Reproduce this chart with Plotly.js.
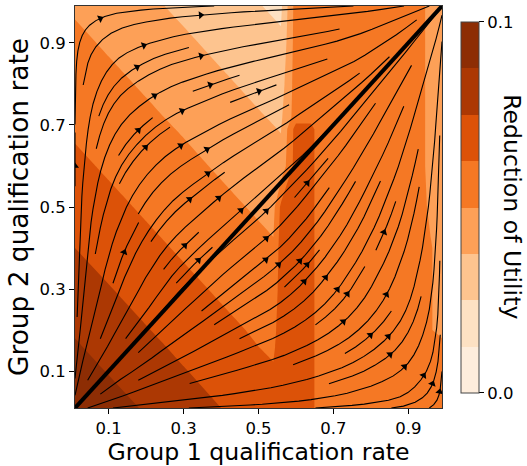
<!DOCTYPE html>
<html><head><meta charset="utf-8">
<script src="https://cdn.plot.ly/plotly-3.0.1.min.js"></script>
<style>body{margin:0;background:#fff}#chart{width:527px;height:466px}</style>
</head><body><div id="chart"></div>
<script>
// ---- contour field (reduction of utility) ----
const gridX = [0.01, 0.1, 0.2, 0.3, 0.4, 0.5, 0.54, 0.56, 0.6, 0.64, 0.66, 0.75, 0.85, 0.93, 0.96, 0.99];
const gridY = [0.01, 0.1, 0.16, 0.2, 0.3, 0.4, 0.5, 0.6, 0.69, 0.72, 0.8, 0.9, 0.99];
const utilityReduction = [
 [0.0972,0.0921,0.0864,0.0807,0.0750,0.0700,0.0680,0.068,0.068,0.068,0.056,0.056,0.056,0.056,0.056,0.056],
 [0.0921,0.0869,0.0813,0.0756,0.0705,0.0655,0.0635,0.068,0.068,0.068,0.056,0.056,0.056,0.056,0.056,0.056],
 [0.0886,0.0835,0.0778,0.0725,0.0675,0.0625,0.0609,0.068,0.068,0.068,0.056,0.056,0.056,0.056,0.056,0.056],
 [0.0864,0.0813,0.0756,0.0705,0.0655,0.0609,0.0593,0.068,0.068,0.068,0.056,0.056,0.056,0.056,0.051,0.044],
 [0.0807,0.0756,0.0705,0.0655,0.0609,0.0569,0.0552,0.068,0.068,0.068,0.056,0.056,0.056,0.056,0.051,0.044],
 [0.0750,0.0705,0.0655,0.0609,0.0569,0.0528,0.0512,0.068,0.068,0.068,0.056,0.056,0.056,0.056,0.051,0.044],
 [0.0700,0.0655,0.0609,0.0569,0.0528,0.0486,0.0468,0.065,0.068,0.068,0.056,0.056,0.056,0.056,0.047,0.044],
 [0.0650,0.0609,0.0569,0.0528,0.0486,0.0440,0.0421,0.0412,0.068,0.068,0.056,0.056,0.056,0.056,0.044,0.044],
 [0.0609,0.0573,0.0532,0.0491,0.0444,0.0398,0.0380,0.0370,0.068,0.068,0.056,0.056,0.056,0.056,0.044,0.044],
 [0.0597,0.0561,0.0520,0.0477,0.0431,0.0384,0.0365,0.0356,0.056,0.056,0.056,0.056,0.056,0.056,0.044,0.044],
 [0.0565,0.0528,0.0486,0.0440,0.0394,0.0346,0.0327,0.0317,0.056,0.056,0.056,0.056,0.056,0.056,0.044,0.044],
 [0.0524,0.0486,0.0440,0.0394,0.0346,0.0298,0.0279,0.0269,0.056,0.056,0.056,0.056,0.056,0.056,0.044,0.044],
 [0.0486,0.0444,0.0398,0.0351,0.0303,0.0255,0.0236,0.0227,0.056,0.056,0.056,0.056,0.056,0.056,0.044,0.044]
];
const levelColors = ['#feeddc','#fddbb8','#fdbf86','#fd9e54','#f67a26','#e4570a','#ba3d02','#8d2d04'];

// ---- flow direction (degrees, data space) read from the streamlines ----
const flowNodesX = [0.01, 0.05, 0.15, 0.3, 0.5, 0.7, 0.85, 0.95, 0.99];
const flowNodesY = [0.01, 0.05, 0.15, 0.3, 0.5, 0.7, 0.85, 0.95, 0.99];
const flowAngle = [
 [45, 12,  3,  2,  2,  3,  4, 20, 60],
 [80, 45, 20, 10,  8, 12, 18, 50, 85],
 [88, 70, 45, 28, 18, 25, 38, 70, 88],
 [90, 82, 65, 45, 32, 50, 62, 80, 90],
 [90, 82, 62, 38, 40, 55, 68, 82, 90],
 [90, 80, 45, 25, 25, 45, 63, 80, 90],
 [88, 70, 30, 15, 12, 18, 45, 72, 88],
 [75, 35, 12,  7,  5,  8, 20, 45, 80],
 [40,  8,  3,  2,  2,  2,  5, 15, 45]
];

// ---- axes / labels ----
const xTickVals = [0.1, 0.3, 0.5, 0.7, 0.9];
const xTickText = ['0.1', '0.3', '0.5', '0.7', '0.9'];
const yTickVals = [0.1, 0.3, 0.5, 0.7, 0.9];
const yTickText = ['0.1', '0.3', '0.5', '0.7', '0.9'];
const cbTickVals = [0.0, 0.1];
const cbTickText = ['0.0', '0.1'];
const diagX = [0.01, 0.99];
const diagY = [0.01, 0.99];

const X0 = 0.01, X1 = 0.99, Y0 = 0.01, Y1 = 0.99;
const PW = 367, PH = 402;

// ---- streamplot (matplotlib-like algorithm) ----
function locate(arr, v) {
  let i = 0;
  while (i < arr.length - 2 && v > arr[i + 1]) i++;
  let t = (v - arr[i]) / (arr[i + 1] - arr[i]);
  return [i, Math.min(1, Math.max(0, t))];
}
function flowDir(x, y) {
  const [i, tx] = locate(flowNodesX, x), [j, ty] = locate(flowNodesY, y);
  const vec = (jj, ii) => { const a = flowAngle[jj][ii] * Math.PI / 180; return [Math.cos(a), Math.sin(a)]; };
  const a00 = vec(j, i), a01 = vec(j, i + 1), a10 = vec(j + 1, i), a11 = vec(j + 1, i + 1);
  const u = (a00[0] * (1 - tx) + a01[0] * tx) * (1 - ty) + (a10[0] * (1 - tx) + a11[0] * tx) * ty;
  const v = (a00[1] * (1 - tx) + a01[1] * tx) * (1 - ty) + (a10[1] * (1 - tx) + a11[1] * tx) * ty;
  const n = Math.hypot(u, v) || 1;
  return [u / n, v / n];
}
const MN = 30;
const mask = new Uint8Array(MN * MN);
let traj = [], cur = null;
const g2m = a => Math.round(a * (MN - 1));
const within = (x, y) => x >= 0 && x <= 1 && y >= 0 && y <= 1;
function updateTraj(ax, ay) {
  if (!within(ax, ay)) return false;
  const xm = g2m(ax), ym = g2m(ay);
  if (!cur || cur[0] !== xm || cur[1] !== ym) {
    if (mask[ym * MN + xm] === 0) { traj.push(ym * MN + xm); mask[ym * MN + xm] = 1; cur = [xm, ym]; }
    else return false;
  }
  return true;
}
function field(ax, ay, sgn) {
  if (!within(ax, ay)) return null;
  const d = flowDir(X0 + ax * (X1 - X0), Y0 + ay * (Y1 - Y0));
  return [sgn * d[0], sgn * d[1]];
}
function rk12(x0, y0, sgn) {
  const maxerror = 0.003, maxds = 1 / MN, maxlength = 4;
  let ds = maxds, stotal = 0, xi = x0, yi = y0;
  const pts = [];
  while (true) {
    if (!within(xi, yi)) break;
    pts.push([xi, yi]);
    const k1 = field(xi, yi, sgn);
    const k2 = field(xi + ds * k1[0], yi + ds * k1[1], sgn);
    if (!k2) {
      const cx = k1[0], cy = k1[1];
      const dsx = cx === 0 ? Infinity : (cx < 0 ? xi / -cx : (1 - xi) / cx);
      const dsy = cy === 0 ? Infinity : (cy < 0 ? yi / -cy : (1 - yi) / cy);
      const dsb = Math.min(dsx, dsy);
      pts.push([xi + cx * dsb, yi + cy * dsb]);
      stotal += dsb;
      break;
    }
    const dx1 = ds * k1[0], dy1 = ds * k1[1];
    const dx2 = ds * 0.5 * (k1[0] + k2[0]), dy2 = ds * 0.5 * (k1[1] + k2[1]);
    const err = Math.hypot(dx2 - dx1, dy2 - dy1);
    if (err < maxerror) {
      xi += dx2; yi += dy2;
      if (!updateTraj(xi, yi)) break;
      if (stotal + ds > maxlength) break;
      stotal += ds;
    }
    ds = err === 0 ? maxds : Math.min(maxds, 0.85 * ds * Math.sqrt(maxerror / err));
  }
  return [stotal, pts];
}
function integrate(x0, y0) {
  traj = []; cur = null;
  if (!updateTraj(x0, y0)) return null;
  let stotal = 0;
  const b = rk12(x0, y0, -1);
  stotal += b[0];
  let pts = b[1].reverse();
  cur = [g2m(x0), g2m(y0)];
  const f = rk12(x0, y0, 1);
  stotal += f[0];
  pts = pts.concat(f[1].slice(1));
  if (stotal > 0.1) return pts;
  for (const k of traj) mask[k] = 0;
  return null;
}
function* spiral(nx, ny) {
  let xfirst = 0, yfirst = 1, xlast = nx - 1, ylast = ny - 1, x = 0, y = 0, dir = 'right';
  for (let i = 0; i < nx * ny; i++) {
    yield [x, y];
    if (dir === 'right') { x++; if (x >= xlast) { xlast--; dir = 'up'; } }
    else if (dir === 'up') { y++; if (y >= ylast) { ylast--; dir = 'left'; } }
    else if (dir === 'left') { x--; if (x <= xfirst) { xfirst++; dir = 'down'; } }
    else { y--; if (y <= yfirst) { yfirst++; dir = 'right'; } }
  }
}
const lineX = [], lineY = [], arrX = [], arrY = [], arrA = [];
for (const [xm, ym] of spiral(MN, MN)) {
  if (mask[ym * MN + xm] !== 0) continue;
  const t = integrate(xm / (MN - 1), ym / (MN - 1));
  if (!t) continue;
  const tx = t.map(p => X0 + p[0] * (X1 - X0)), ty = t.map(p => Y0 + p[1] * (Y1 - Y0));
  for (let k = 0; k < tx.length; k++) { lineX.push(tx[k]); lineY.push(ty[k]); }
  lineX.push(null); lineY.push(null);
  const s = []; let acc = 0;
  for (let k = 1; k < tx.length; k++) { acc += Math.hypot(tx[k] - tx[k - 1], ty[k] - ty[k - 1]); s.push(acc); }
  let n = 0; while (n < s.length && s[n] < acc / 2) n++;
  if (n + 1 >= tx.length) n = tx.length - 2;
  const hx = (tx[n] + tx[n + 1]) / 2, hy = (ty[n] + ty[n + 1]) / 2;
  const dxp = (tx[n + 1] - tx[n]) * PW / (X1 - X0), dyp = (ty[n + 1] - ty[n]) * PH / (Y1 - Y0);
  arrX.push(hx); arrY.push(hy); arrA.push(Math.atan2(dxp, dyp) * 180 / Math.PI);
}

const colorscale = [[0, levelColors[0]]];
levelColors.forEach((c, k) => colorscale.push([(k + 1) / 9, c]));
colorscale.push([1, levelColors[7]]);

const font = 'DejaVu Sans, sans-serif';
const tickSize = 16.5;
const traces = [
  {
    type: 'contour', x: gridX, y: gridY, z: utilityReduction,
    autocontour: false,
    contours: { start: 0, end: 0.1, size: 0.0125, coloring: 'fill', showlines: false },
    line: { width: 0, smoothing: 0 },
    colorscale: colorscale, zmin: 0, zmax: 0.1,
    hoverinfo: 'skip',
    colorbar: {
      thickness: 18, len: 371, lenmode: 'pixels', x: 1.052, xanchor: 'left', xpad: 0,
      y: 0.499, yanchor: 'middle', ypad: 0,
      outlinewidth: 1, outlinecolor: '#444',
      tickvals: cbTickVals, ticktext: cbTickText, ticks: 'outside', ticklen: 5, tickcolor: '#000',
      tickfont: { family: font, size: tickSize, color: '#000' }
    }
  },
  { type: 'scatter', mode: 'lines', x: lineX, y: lineY, connectgaps: false,
    line: { color: '#000', width: 1.1 }, hoverinfo: 'skip' },
  { type: 'scatter', mode: 'markers', x: arrX, y: arrY,
    marker: { symbol: 'triangle-up', size: 7, color: '#000', angle: arrA, line: { width: 0 } }, hoverinfo: 'skip' },
  { type: 'scatter', mode: 'lines', x: diagX, y: diagY, line: { color: '#000', width: 4 }, hoverinfo: 'skip' }
];
const axisBase = {
  range: [0.01, 0.99], showgrid: false, zeroline: false, ticks: 'outside', ticklen: 5, tickcolor: '#000',
  showline: true, mirror: true, linecolor: '#333', linewidth: 1,
  tickfont: { family: font, size: tickSize, color: '#000' }
};
const layout = {
  width: 527, height: 466, margin: { l: 75, r: 85, t: 6, b: 58 },
  paper_bgcolor: '#fff', plot_bgcolor: '#fff', showlegend: false,
  xaxis: Object.assign({}, axisBase, { tickvals: xTickVals, ticktext: xTickText,
    title: { text: 'Group 1 qualification rate', font: { family: font, size: 23.6, color: '#000' }, standoff: 1 } }),
  yaxis: Object.assign({}, axisBase, { tickvals: yTickVals, ticktext: yTickText,
    title: { text: 'Group 2 qualification rate', font: { family: font, size: 26.4, color: '#000' }, standoff: 3 } }),
  annotations: [{ text: 'Reduction of Utility', textangle: 90, xref: 'paper', yref: 'paper',
    x: 1.19, y: 0.5, xanchor: 'center', yanchor: 'middle', showarrow: false,
    font: { family: font, size: 23.6, color: '#000' } }]
};
Plotly.newPlot('chart', traces, layout, { staticPlot: true, displayModeBar: false });
</script></body></html>
